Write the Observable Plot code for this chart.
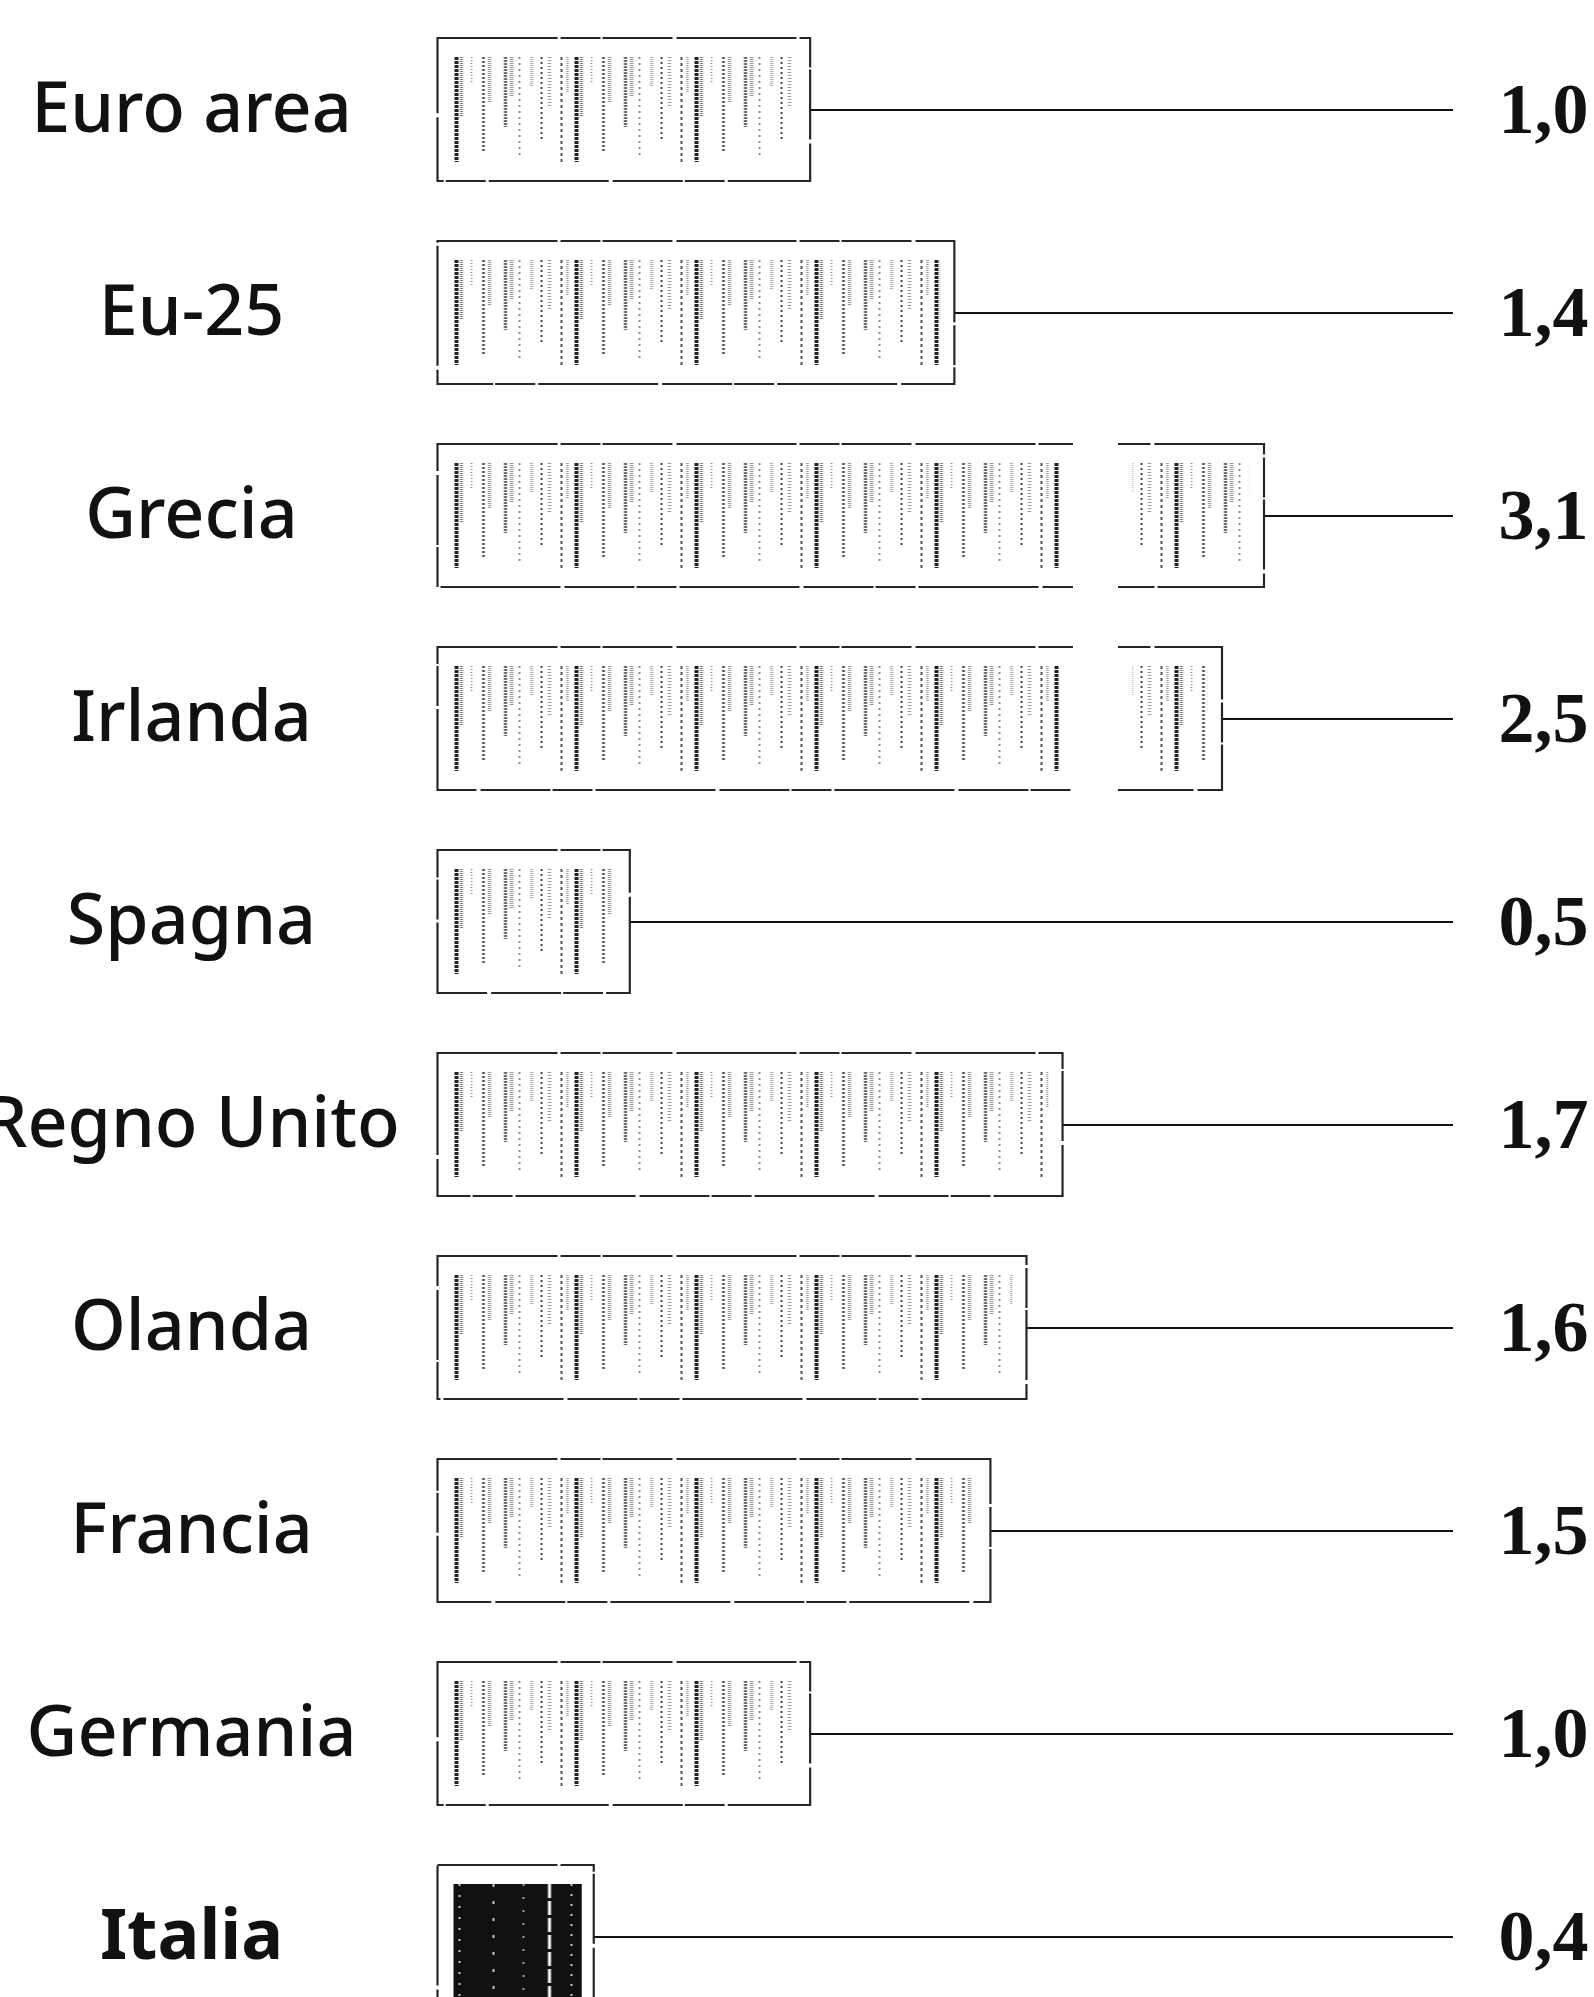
<!DOCTYPE html>
<html><head><meta charset="utf-8">
<script src="https://cdn.jsdelivr.net/npm/d3@7"></script>
<script src="https://cdn.jsdelivr.net/npm/@observablehq/plot@0.6"></script>
<style>
html,body{margin:0;padding:0;background:#fff;overflow:hidden;}
#chart svg{display:block;}
</style></head><body><div id="chart"></div>
<script>
// ---- data ----
const categories = ["Euro area","Eu-25","Grecia","Irlanda","Spagna","Regno Unito","Olanda","Francia","Germania","Italia"];
const values = [1.0, 1.4, 3.1, 2.5, 0.5, 1.7, 1.6, 1.5, 1.0, 0.4];
const valueLabels = ["1,0","1,4","3,1","2,5","0,5","1,7","1,6","1,5","1,0","0,4"];
const highlighted = ["Italia"];

// ---- broken axis settings ----
const BREAK_START = 1.729, BREAK_END = 1.9, AXIS_END = 3.5;

// ---- texture definitions (scan-like streaks) ----
const streaks = [
  [3, 0, 105, "#222", 4, "3 1"],
  [8, 0, 60, "#777", 3, "1 1"],
  [18, 0, 25, "#999", 2, "1 2"],
  [30, 0, 95, "#444", 2.5, "2 2"],
  [36, 0, 45, "#888", 3, "1 1"],
  [52, 0, 70, "#555", 3, "2 1"],
  [58, 0, 40, "#999", 4, "1 1"],
  [66, 0, 100, "#666", 1.5, "2 4"],
  [78, 0, 30, "#aaa", 3, "1 1"],
  [88, 0, 85, "#444", 2, "2 3"],
  [96, 0, 50, "#888", 3, "1 2"],
  [108, 0, 105, "#555", 2, "3 3"],
  [114, 0, 35, "#999", 2.5, "1 1"]
];
const darkGaps = [
  [6, "#fff", 1.5, "2 9"],
  [40, "#fff", 1.5, "3 14"],
  [70, "#fff", 1.2, "2 11"],
  [96, "#fff", 3, "14 3"],
  [118, "#fff", 1.5, "2 8"]
];

const rows = categories.map((c, i) => ({cat: c, v: values[i], label: valueLabels[i]}));
const isHi = d => highlighted.includes(d.cat);
const segA = rows.map(d => ({cat: d.cat, x1: 0, x2: Math.min(d.v, BREAK_START), hi: isHi(d)}));
const segB = rows.filter(d => d.v > BREAK_END).map(d => ({cat: d.cat, x1: BREAK_END, x2: d.v, hi: isHi(d)}));
const broken = rows.filter(d => d.v > BREAK_END);

const chart = Plot.plot({
  width: 1594, height: 1997,
  marginLeft: 0, marginRight: 6, marginTop: 0, marginBottom: 0,
  style: {background: "white"},
  x: {type: "linear", domain: [0, BREAK_START, BREAK_END, 2.5, 3.1, AXIS_END],
      range: [449.5, 1073, 1118, 1222, 1264, 1453], axis: null},
  y: {type: "band", domain: categories, range: [35, 2011], paddingInner: 0.298, paddingOuter: 0, axis: null},
  marks: [
    Plot.ruleY(rows, {y: "cat", x1: "v", x2: () => AXIS_END, stroke: "#111", strokeWidth: 2.2}),
    Plot.barX(rows, {y: "cat", x1: 0, x2: "v", insetLeft: -12, fill: "white", stroke: "#262626", strokeWidth: 2.2,
      strokeDasharray: "120 3 40 2 70 4"}),
    Plot.barX(segA.filter(d => !d.hi), {y: "cat", x1: "x1", x2: "x2", fill: "url(#streaks)",
      insetLeft: 4, insetRight: 14, insetTop: 19, insetBottom: 17}),
    Plot.barX(segB.filter(d => !d.hi), {y: "cat", x1: "x1", x2: "x2", fill: "url(#streaks)",
      insetLeft: 14, insetRight: 14, insetTop: 19, insetBottom: 17}),
    Plot.barX(segA.filter(d => d.hi), {y: "cat", x1: "x1", x2: "x2", fill: "url(#dark)",
      insetLeft: 4, insetRight: 12, insetTop: 19, insetBottom: 4}),
    Plot.barX(broken, {y: "cat", x1: () => BREAK_START, x2: () => BREAK_END, fill: "white",
      insetTop: -4, insetBottom: -4}),
    Plot.text(rows.filter(d => !isHi(d)), {y: "cat", text: "cat", frameAnchor: "left", dx: 191,
      textAnchor: "middle", fontSize: 70, fontFamily: "Noto Sans", fontWeight: 500, fill: "#111"}),
    Plot.text(rows.filter(isHi), {y: "cat", text: "cat", frameAnchor: "left", dx: 191,
      textAnchor: "middle", fontSize: 70, fontFamily: "Noto Sans", fontWeight: "bold", fill: "#111"}),
    Plot.text(rows, {y: "cat", text: "label", frameAnchor: "right", textAnchor: "end",
      fontSize: 72, fontFamily: "Liberation Serif", fontWeight: "bold", fill: "#111"})
  ]
});

// patterns aligned with the scales
const xs = chart.scale("x"), ys = chart.scale("y");
const x0 = xs.apply(0) - 12;
const y0 = ys.apply(categories[0]);
const step = ys.step || (ys.apply(categories[1]) - ys.apply(categories[0]));
const defs = d3.select(chart).insert("defs", ":first-child");
const p = defs.append("pattern").attr("id", "streaks").attr("patternUnits", "userSpaceOnUse")
  .attr("x", x0 + 16).attr("y", y0 + 19).attr("width", 120).attr("height", step);
p.append("rect").attr("width", 120).attr("height", step).attr("fill", "white");
for (const [x, a, b, c, w, dash] of streaks) {
  p.append("line").attr("x1", x).attr("x2", x).attr("y1", a).attr("y2", b)
    .attr("stroke", c).attr("stroke-width", w).attr("stroke-dasharray", dash);
}
const q = defs.append("pattern").attr("id", "dark").attr("patternUnits", "userSpaceOnUse")
  .attr("x", x0 + 16).attr("y", y0 + 19).attr("width", 400).attr("height", step);
q.append("rect").attr("width", 400).attr("height", step).attr("fill", "#111");
for (const [x, c, w, dash] of darkGaps) {
  q.append("line").attr("x1", x).attr("x2", x).attr("y1", 0).attr("y2", step)
    .attr("stroke", c).attr("stroke-width", w).attr("stroke-dasharray", dash);
}
document.getElementById("chart").appendChild(chart);
</script>
</body></html>
